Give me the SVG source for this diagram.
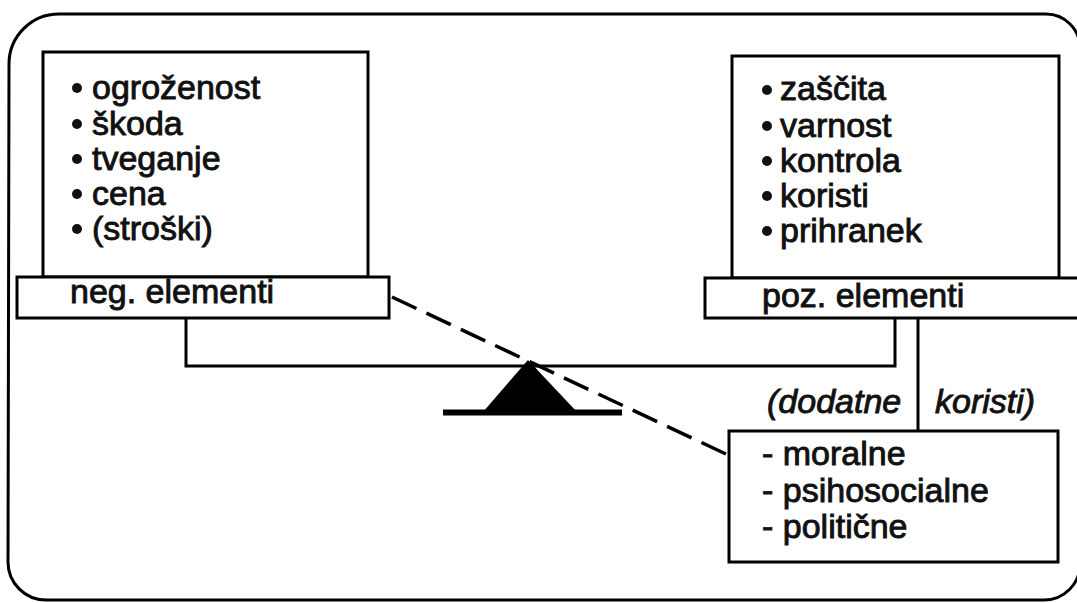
<svg xmlns="http://www.w3.org/2000/svg" width="1077" height="603" viewBox="0 0 1077 603">
  <style>
    .line { fill: none; stroke: #000; stroke-width: 3; }
    .box { fill: #fff; stroke: #000; stroke-width: 3; }
    .txt { font-family: "Liberation Sans", Arial, sans-serif; font-size: 34px; fill: #111; stroke: #111; stroke-width: 0.9; }
    .it { font-style: italic; }
    .dot { fill: #111; }
  </style>
  <rect width="1077" height="603" fill="#fff"/>

  <!-- outer frame -->
  <path class="line" d="M9,64 A50,50 0 0 1 59,14 L1046,14 A34,34 0 0 1 1080,48 L1080,564 A36,36 0 0 1 1044,600 L46,600 A38,38 0 0 1 8,562 Z"/>

  <!-- connectors: seesaw beam, links and dashed relation -->
  <g id="connectors">
    <polyline class="line" points="186,318 186,366 895,366 895,318"/>
    <line class="line" x1="918" y1="318" x2="918" y2="431"/>
    <line x1="392" y1="297" x2="728" y2="455" stroke="#000" stroke-width="3.5" stroke-dasharray="27 11"/>
  </g>

  <!-- fulcrum -->
  <g id="fulcrum">
    <polygon points="528,360 483,412 577,412" fill="#000"/>
    <line x1="443" y1="412.5" x2="622" y2="412.5" stroke="#000" stroke-width="6"/>
  </g>

  <!-- negative elements -->
  <g id="neg-box">
    <rect class="box" x="43" y="52" width="325" height="225"/>
    <circle class="dot" cx="77" cy="88" r="5"/>
    <circle class="dot" cx="77" cy="124" r="5"/>
    <circle class="dot" cx="77" cy="159" r="5"/>
    <circle class="dot" cx="77" cy="194" r="5"/>
    <circle class="dot" cx="77" cy="229" r="5"/>
    <text class="txt" x="92" y="99">ogroženost</text>
    <text class="txt" x="92" y="135">škoda</text>
    <text class="txt" x="92" y="170">tveganje</text>
    <text class="txt" x="92" y="205">cena</text>
    <text class="txt" x="92" y="240">(stroški)</text>
  </g>
  <g id="neg-bar">
    <rect class="box" x="17" y="277" width="372" height="41"/>
    <text class="txt" x="70" y="303">neg. elementi</text>
  </g>

  <!-- positive elements -->
  <g id="poz-box">
    <rect class="box" x="732" y="56" width="327" height="222"/>
    <circle class="dot" cx="767" cy="90" r="5"/>
    <circle class="dot" cx="767" cy="126" r="5"/>
    <circle class="dot" cx="767" cy="161" r="5"/>
    <circle class="dot" cx="767" cy="196" r="5"/>
    <circle class="dot" cx="767" cy="231" r="5"/>
    <text class="txt" x="780" y="100">zaščita</text>
    <text class="txt" x="780" y="137">varnost</text>
    <text class="txt" x="780" y="172">kontrola</text>
    <text class="txt" x="780" y="207">koristi</text>
    <text class="txt" x="780" y="242">prihranek</text>
  </g>
  <g id="poz-bar">
    <rect class="box" x="705" y="278" width="385" height="40"/>
    <text class="txt" x="762" y="307">poz. elementi</text>
  </g>

  <!-- link labels -->
  <g id="labels">
    <text class="txt it" x="767" y="413">(dodatne</text>
    <text class="txt it" x="935" y="413">koristi)</text>
  </g>

  <!-- additional benefits -->
  <g id="extra-box">
    <rect class="box" x="729" y="431" width="329" height="131"/>
    <text class="txt" x="762" y="465">- moralne</text>
    <text class="txt" x="762" y="502">- psihosocialne</text>
    <text class="txt" x="762" y="538">- politične</text>
  </g>
</svg>
